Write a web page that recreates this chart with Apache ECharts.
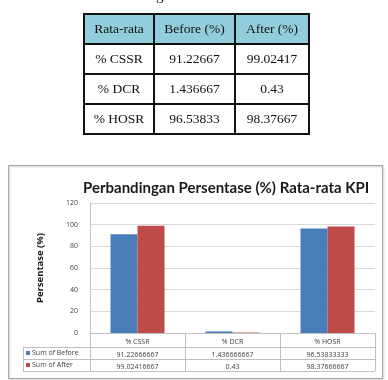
<!DOCTYPE html>
<html>
<head>
<meta charset="utf-8">
<script src="https://cdn.jsdelivr.net/npm/echarts@6/dist/echarts.min.js"></script>
<style>
  body { margin: 0; background: #fff; }
  #page { position: relative; width: 388px; height: 380px; overflow: hidden; }
  #chart { position: absolute; left: 0; top: 0; width: 388px; height: 380px; }
  #cap { position: absolute; left: 156px; top: -13px; font: 15px "Liberation Serif", serif; color: #111; }
  #kpi { position: absolute; left: 83px; top: 13px; border-collapse: collapse; table-layout: fixed; font: 13.5px "Liberation Serif", serif; color: #111; }
  #kpi td { border: 2px solid #111; text-align: center; height: 28px; padding: 0; }
  #kpi tr.hd td { background: #92cddc; }
</style>
</head>
<body>
<div id="page">
  <div id="chart"></div>
  <div id="cap">g</div>
  <table id="kpi"></table>
</div>
<script>
// data
const categories = ['% CSSR', '% DCR', '% HOSR'];
const tableHead = ['Rata-rata', 'Before (%)', 'After (%)'];
const beforeTable = ['91.22667', '1.436667', '96.53833'];
const afterTable = ['99.02417', '0.43', '98.37667'];
const beforeValues = [91.22666667, 1.436666667, 96.53833333];
const afterValues = [99.02416667, 0.43, 98.37666667];
const beforeLabels = ['91.22666667', '1.436666667', '96.53833333'];
const afterLabels = ['99.02416667', '0.43', '98.37666667'];
const yTicks = [0, 20, 40, 60, 80, 100, 120];

// tabel atas
const widths = [68, 79, 72];
let html = '<tr class="hd">' + tableHead.map((h, i) => '<td style="width:' + widths[i] + 'px">' + h + '</td>').join('') + '</tr>';
for (let i = 0; i < categories.length; i++) {
    html += '<tr><td>' + categories[i] + '</td><td>' + beforeTable[i] + '</td><td>' + afterTable[i] + '</td></tr>';
}
document.getElementById('kpi').innerHTML = html;

// grafik
const gridL = 90, gridR = 375, gridT = 203, gridB = 333;
const rowH = [14, 12, 12];
const txt = '#404040';
const font = '"Open Sans", sans-serif';
let chart = echarts.init(document.getElementById('chart'));

const rowY1 = gridB + rowH[0];
const rowY2 = rowY1 + rowH[1];
const rowY3 = rowY2 + rowH[2];
const lineStyle = { stroke: '#bfbfbf', lineWidth: 1 };

chart.setOption({
    animation: false,
    textStyle: { fontFamily: font },
    title: {
        text: 'Perbandingan Persentase (%) Rata-rata KPI',
        left: 83,
        top: 181,
        padding: 0,
        textStyle: { fontSize: 15, fontWeight: 'bold', color: '#1a1a1a', fontFamily: 'Lato, sans-serif' }
    },
    grid: { left: gridL, right: 388 - gridR, top: gridT, bottom: 380 - gridB },
    xAxis: {
        type: 'category',
        data: categories,
        axisLine: { lineStyle: { color: '#bfbfbf' } },
        axisTick: { show: true, length: rowH[0] + rowH[1] + rowH[2], lineStyle: { color: '#bfbfbf' } },
        axisLabel: {
            interval: 0,
            margin: 2,
            formatter: (v, i) => '{c|' + v + '}\n{v|' + beforeLabels[i] + '}\n{v|' + afterLabels[i] + '}',
            rich: {
                c: { fontSize: 7, color: txt, lineHeight: rowH[0], fontFamily: font },
                v: { fontSize: 7, color: txt, lineHeight: rowH[1], fontFamily: font }
            }
        }
    },
    yAxis: {
        type: 'value',
        min: 0,
        max: yTicks[yTicks.length - 1],
        interval: yTicks[1] - yTicks[0],
        name: 'Persentase (%)',
        nameLocation: 'middle',
        nameRotate: 90,
        nameGap: 45,
        nameTextStyle: { fontSize: 9.5, fontWeight: 'bold', color: '#1a1a1a', fontFamily: font },
        axisLine: { show: true, lineStyle: { color: '#bfbfbf' } },
        axisTick: { show: false },
        axisLabel: { fontSize: 7, color: txt, margin: 12 },
        splitLine: { lineStyle: { color: '#d9d9d9' } }
    },
    series: [
        {
            name: 'Sum of Before',
            type: 'bar',
            data: beforeValues,
            barWidth: 27,
            barGap: '0%',
            itemStyle: { color: '#4a7ebb' }
        },
        {
            name: 'Sum of After',
            type: 'bar',
            data: afterValues,
            barWidth: 27,
            itemStyle: { color: '#be4b48' }
        }
    ],
    graphic: [
        // bingkai grafik
        { type: 'rect', shape: { x: 8.5, y: 165.5, width: 374, height: 213 }, style: { fill: 'none', stroke: '#a6a6a6', lineWidth: 1, shadowColor: 'rgba(0,0,0,0.25)', shadowBlur: 2, shadowOffsetX: 1, shadowOffsetY: 1 } },
        // garis tabel data
        { type: 'line', shape: { x1: 23, y1: rowY1 + 0.5, x2: gridR, y2: rowY1 + 0.5 }, style: lineStyle },
        { type: 'line', shape: { x1: 23, y1: rowY2 + 0.5, x2: gridR, y2: rowY2 + 0.5 }, style: lineStyle },
        { type: 'line', shape: { x1: 23, y1: rowY3 + 0.5, x2: gridR, y2: rowY3 + 0.5 }, style: lineStyle },
        { type: 'line', shape: { x1: 23.5, y1: rowY1, x2: 23.5, y2: rowY3 }, style: lineStyle },
        { type: 'line', shape: { x1: gridR + 0.5, y1: gridB, x2: gridR + 0.5, y2: rowY3 }, style: lineStyle },
        // legenda
        { type: 'rect', shape: { x: 26, y: rowY1 + 4, width: 4, height: 4 }, style: { fill: '#4a7ebb' } },
        { type: 'text', x: 32, y: rowY1 + 6, style: { text: 'Sum of Before', fontSize: 7, fill: txt, fontFamily: font, verticalAlign: 'middle' } },
        { type: 'rect', shape: { x: 26, y: rowY2 + 4, width: 4, height: 4 }, style: { fill: '#be4b48' } },
        { type: 'text', x: 32, y: rowY2 + 6, style: { text: 'Sum of After', fontSize: 7, fill: txt, fontFamily: font, verticalAlign: 'middle' } }
    ]
});
</script>
</body>
</html>
